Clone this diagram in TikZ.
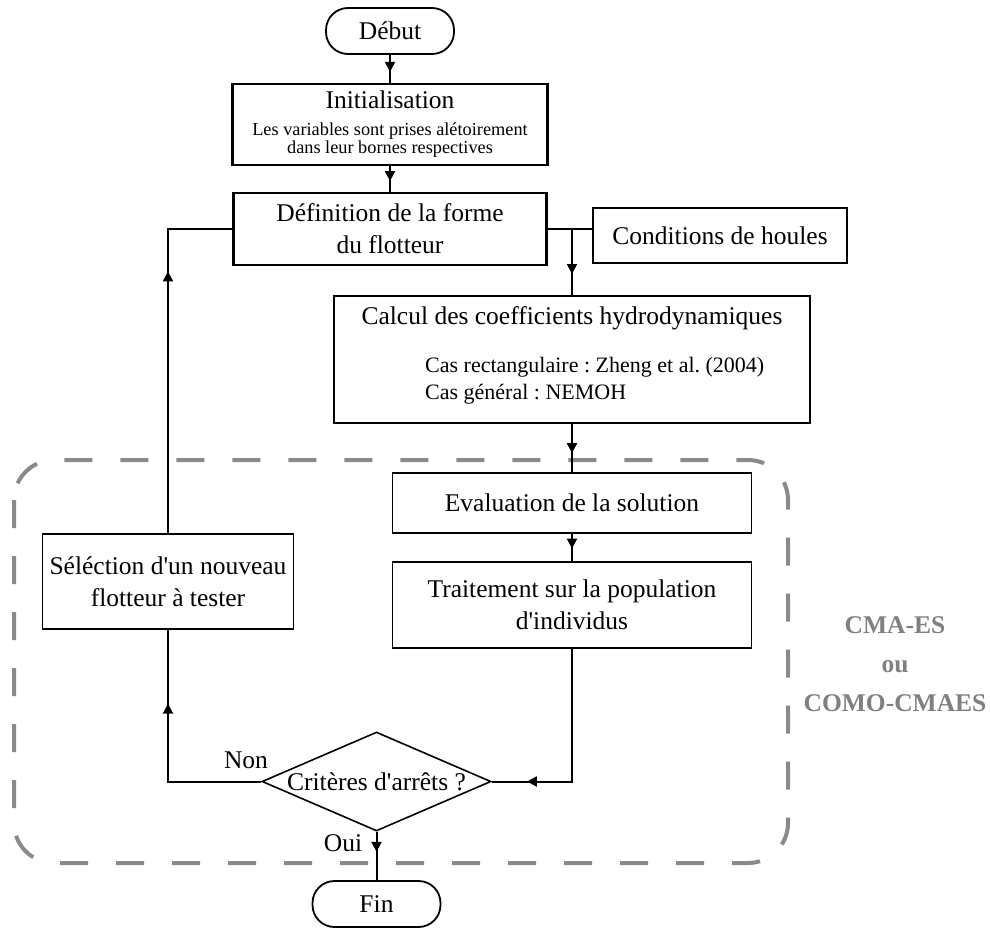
\documentclass[tikz,border=0pt]{standalone}
\usepackage{fontspec}
\setmainfont{Liberation Serif}[Ligatures=TeXOff]
\usepackage{xcolor}
\usepackage{tikz}
\usetikzlibrary{shapes.geometric, arrows.meta, decorations.markings}
\definecolor{loopgray}{RGB}{138,138,138}
\definecolor{algogray}{RGB}{128,128,128}
\newcommand{\bigtxt}{\fontsize{25.5pt}{32pt}\selectfont}
\newcommand{\midtxt}{\fontsize{22pt}{27pt}\selectfont}
\newcommand{\smalltxt}{\fontsize{18.3pt}{17.5pt}\selectfont}
\frenchspacing

\begin{document}
\begin{tikzpicture}[x=1pt, y=-1pt, every node/.style={font=\bigtxt},
  conn/.style={line width=2pt},
  midarrow/.style={postaction={decorate}, decoration={markings, mark=at position #1 with {\arrow{Triangle[width=10pt, length=10pt]}}}},
  thickbox/.style={draw, line width=2.2pt, inner sep=0pt},
  thinbox/.style={draw, line width=1.2pt, inner sep=0pt},
  termbox/.style={draw, line width=1.8pt, rounded corners=22pt, minimum width=128pt, minimum height=46pt}]
\useasboundingbox (0,0) rectangle (990,928);
% optimisation loop
\draw[loopgray, line width=4pt, dash pattern=on 28pt off 28pt, rounded corners=40pt] (14,460) rectangle (788,863);
\node[font=\bigtxt\bfseries, text=algogray, align=center] (algo) at (895,664) {CMA-ES\\[7pt]ou\\[7pt]COMO-CMAES};
% boxes
\node[termbox] (debut) at (390,31) {Début};
\node[thickbox, minimum width=315pt, minimum height=81pt] (init) at (390,124.5) {};
\node (inittitle) at (390,100) {Initialisation};
\node[font=\smalltxt, align=center] (initsub) at (390,140) {Les variables sont prises alétoirement\\dans leur bornes respectives};
\node[thickbox, minimum width=313pt, minimum height=72pt, align=center] (def) at (390,229) {Définition de la forme\\du flotteur};
\node[thickbox, minimum width=254pt, minimum height=55pt] (cond) at (720,235.5) {Conditions de houles};
\node[thickbox, minimum width=476pt, minimum height=127pt] (calc) at (572,359.5) {};
\node (calctitle) at (572,318) {Calcul des coefficients hydrodynamiques};
\node[font=\midtxt, align=left, anchor=west, inner sep=0pt] (calcsub) at (425,380.5) {Cas rectangulaire : Zheng et al. (2004)\\Cas général : NEMOH};
\node[thinbox, minimum width=359pt, minimum height=60pt] (eval) at (572,503) {Evaluation de la solution};
\node[thinbox, minimum width=359pt, minimum height=86pt, align=center] (trait) at (572,605) {Traitement sur la population\\d'individus};
\node[thinbox, minimum width=251pt, minimum height=95pt, align=center] (sel) at (168,581.5) {Séléction d'un nouveau\\flotteur à tester};
\node[draw, diamond, line width=1.6pt, aspect=2.3, inner sep=0pt, minimum width=229pt, minimum height=99pt] (crit) at (376.5,781.5) {Critères d'arrêts ?};
\node[termbox] (fin) at (376.5,904) {Fin};
\node (non) at (246,760) {Non};
\node (oui) at (343,843) {Oui};
% connectors
\draw[conn, midarrow=17pt] (debut) -- (init);
\draw[conn, midarrow=15pt] (init) -- (def);
\draw[conn] (def.east) -- (def.east -| cond.west);
\draw[conn, midarrow=45pt] (calc.north |- def.east) -- (calc);
\draw[conn, midarrow=29pt] (calc) -- (eval);
\draw[conn, midarrow=15pt] (eval) -- (trait);
\draw[conn, midarrow=178pt] (trait) |- (crit);
\draw[conn, midarrow=171pt] (crit) -| (sel);
\draw[conn, midarrow=262pt] (sel) |- (def);
\draw[conn, midarrow=20pt] (crit) -- (fin);
\end{tikzpicture}
\end{document}
